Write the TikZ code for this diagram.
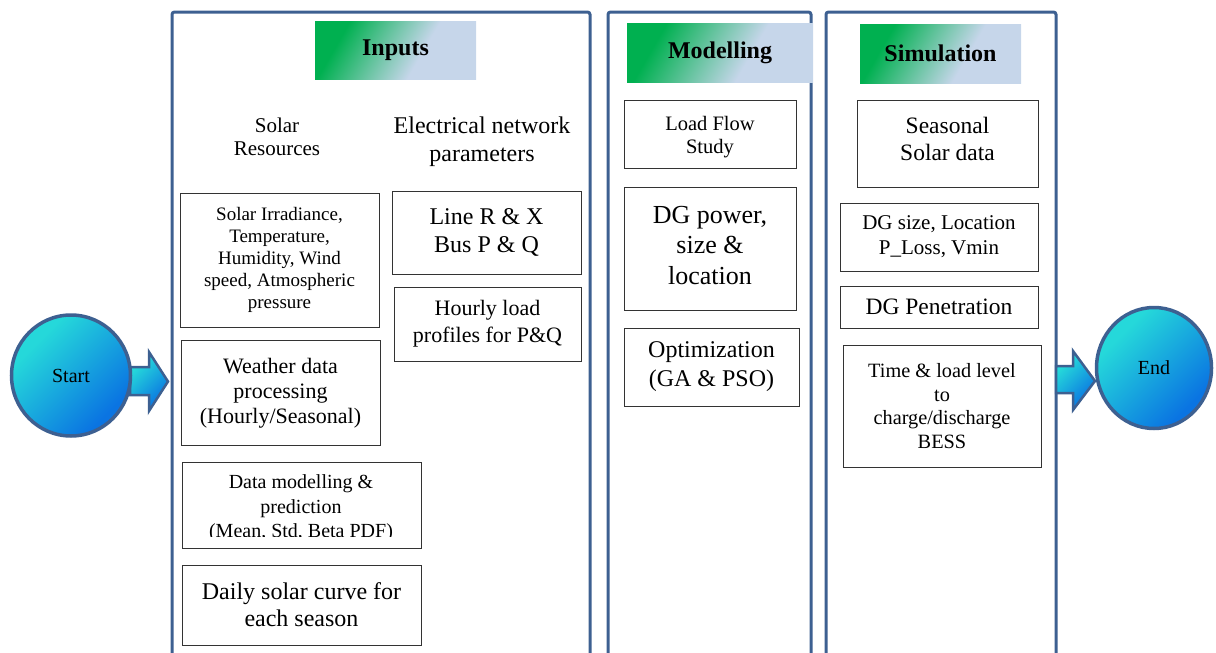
\documentclass[tikz,border=0pt]{standalone}
\usepackage{fontspec}
\setmainfont{Liberation Serif}
\usetikzlibrary{shapes.geometric}
\definecolor{pnl}{HTML}{3D6091}
\definecolor{hdrgreen}{HTML}{00B050}
\definecolor{hdrblue}{HTML}{C6D6EA}
\definecolor{cyanc}{HTML}{25D8DA}
\definecolor{bluec}{HTML}{0A74E2}
\definecolor{boxc}{HTML}{333333}
\pgfdeclarehorizontalshading{hdrshade}{100bp}{color(0bp)=(hdrgreen); color(28bp)=(hdrgreen); color(60bp)=(hdrblue); color(100bp)=(hdrblue)}
\pgfdeclarehorizontalshading{ballshade}{100bp}{color(0bp)=(cyanc); color(30bp)=(cyanc); color(72bp)=(bluec); color(100bp)=(bluec)}
\newcommand\fsz[2]{\fontsize{#1}{#2}\selectfont}
\tikzset{
  panel/.style={draw=pnl, line width=3pt, rounded corners=2.5pt},
  hdr/.style={shade, shading=hdrshade, shading angle=-30, inner sep=0pt, font=\bfseries\fsz{24}{28}},
  bx/.style={draw=boxc, line width=1pt, fill=white, align=center, inner sep=0pt, outer sep=0pt},
  lbl/.style={align=center, inner sep=0pt},
  ball/.style={ellipse, draw=pnl, line width=3.5pt, shade, shading=ballshade, shading angle=-45, inner sep=0pt, font=\fsz{20}{24}},
  barrow/.style={draw=pnl, line width=2.5pt, shade, shading=ballshade, shading angle=-45, line join=miter}
}
\begin{document}
\begin{tikzpicture}[x=1pt,y=-1pt]
\useasboundingbox (0,0) rectangle (1216,653);
% panels
\draw[panel] (172,662) -- (172,12) -- (590,12) -- (590,662);
\draw[panel] (608,662) -- (608,12) -- (811,12) -- (811,662);
\draw[panel] (826,662) -- (826,12) -- (1056,12) -- (1056,662);
% headers
\node[hdr, minimum width=161, minimum height=58] (hin) at (395.5,50) {Inputs};
\node[hdr, minimum width=186, minimum height=59] (hmod) at (720,52.5) {Modelling};
\node[hdr, minimum width=161, minimum height=59] (hsim) at (940.5,53.5) {Simulation};
% block arrows
\draw[barrow] (130,367) -- (149,367) -- (149,352) -- (168,381.5) -- (149,411) -- (149,395) -- (130,395) -- cycle;
\draw[barrow] (1056,366) -- (1073,366) -- (1073,351) -- (1095,381) -- (1073,410) -- (1073,393) -- (1056,393) -- cycle;
% start / end
\node[ball, minimum width=119, minimum height=121] (start) at (71,375.5) {Start};
\node[ball, minimum width=115, minimum height=121] (end) at (1154,368) {End};
% inputs
\node[lbl, font=\fsz{21}{23.5}] (solres) at (277,137) {Solar\\Resources};
\node[lbl, font=\fsz{24}{28}] (elnet) at (482,142) {Electrical network\\parameters};
\node[bx, minimum width=199, minimum height=134, font=\fsz{19}{21.8}] (sirr) at (279.5,260) {Solar Irradiance,\\Temperature,\\Humidity, Wind\\speed, Atmospheric\\pressure};
\node[bx, minimum width=199, minimum height=105, font=\fsz{22}{25}] (weather) at (280.5,393) {Weather data\\processing\\(Hourly/Seasonal)};
\node[bx, minimum width=239, minimum height=86] (datamod) at (301.5,505) {};
\begin{scope}
\clip (183,462) rectangle (420,536);
\node[lbl, font=\fsz{20}{24.5}] (datamodtxt) at (301,508.5) {Data modelling \&\\prediction\\(Mean, Std, Beta PDF)};
\end{scope}
\node[bx, minimum width=239, minimum height=80, font=\fsz{24}{27}] (daily) at (301.5,605) {Daily solar curve for\\each season};
\node[bx, minimum width=189, minimum height=83, font=\fsz{24}{28}] (line) at (486.5,232.5) {Line R \& X\\Bus P \& Q};
\node[bx, minimum width=187, minimum height=74, font=\fsz{22}{27}] (hourly) at (487.5,324) {Hourly load\\profiles for P\&Q};
% modelling
\node[bx, minimum width=172, minimum height=68] (lflow) at (710,134) {};
\node[lbl, font=\fsz{20.5}{23}] (lflowtxt) at (710,137) {Load Flow\\Study};
\node[bx, minimum width=172, minimum height=123] (dgpow) at (710,248.5) {};
\node[lbl, font=\fsz{26}{30.7}] (dgpowtxt) at (710,245.5) {DG power,\\size \&\\location};
\node[bx, minimum width=175, minimum height=78, font=\fsz{24}{29}] (optim) at (711.5,367) {Optimization\\(GA \& PSO)};
% simulation
\node[bx, minimum width=181, minimum height=87] (seas) at (947.5,143.5) {};
\node[lbl, font=\fsz{23.5}{27}] (seastxt) at (947.5,139) {Seasonal\\Solar data};
\node[bx, minimum width=198, minimum height=68, font=\fsz{21}{25}] (dgsize) at (939,237) {DG size, Location\\P\_Loss, Vmin};
\node[bx, minimum width=198, minimum height=42, font=\fsz{23.5}{27}] (dgpen) at (939,307) {DG Penetration};
\node[bx, minimum width=198, minimum height=122, font=\fsz{20.3}{23.4}] (bess) at (942,406) {Time \& load level\\to\\charge/discharge\\BESS};
\end{tikzpicture}
\end{document}
